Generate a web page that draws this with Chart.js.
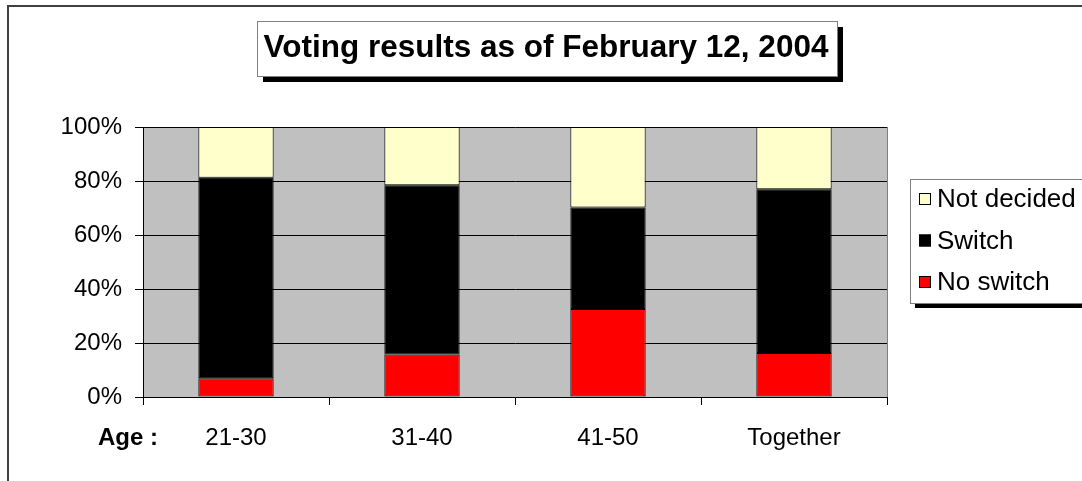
<!DOCTYPE html>
<html>
<head>
<meta charset="utf-8">
<script src="https://cdn.jsdelivr.net/npm/chart.js@4"></script>
<style>
  html, body { margin: 0; padding: 0; background: #fff; }
  #wrap { width: 1082px; height: 481px; }
</style>
</head>
<body>
<div id="wrap"><canvas id="chart" width="1082" height="481"></canvas></div>
<script>
// voting results, stacked to 100%
var categories = ["21-30", "31-40", "41-50", "Together"];
var noSwitch = [6.9, 15.7, 32.6, 16.3];
var switched = [74.3, 62.7, 37.6, 60.6];
var notDecided = [18.8, 21.6, 29.8, 23.1];
var seriesNames = ["No switch", "Switch", "Not decided"];
var titleText = "Voting results as of February 12, 2004";
var axisName = "Age :";

var FONT = "'Liberation Sans', Arial, sans-serif";

// background, outer frame and title box
var framePlugin = {
    id: "frame",
    beforeDraw: function(chart) {
        var ctx = chart.ctx;
        var a = chart.chartArea;
        ctx.save();
        ctx.fillStyle = "#fff";
        ctx.fillRect(0, 0, chart.width, chart.height);

        ctx.strokeStyle = "#404040";
        ctx.lineWidth = 2;
        ctx.strokeRect(8, 6, 1200, 600);

        // title box with shadow
        ctx.fillStyle = "#000";
        ctx.fillRect(263, 27, 580, 55);
        ctx.fillStyle = "#fff";
        ctx.fillRect(257, 21, 580, 55);
        ctx.strokeStyle = "#808080";
        ctx.lineWidth = 1;
        ctx.strokeRect(257.5, 21.5, 580, 55);
        ctx.fillStyle = "#000";
        ctx.font = "bold 31.5px " + FONT;
        ctx.textAlign = "center";
        ctx.textBaseline = "middle";
        ctx.fillText(titleText, 546, 48);

        // plot area
        ctx.fillStyle = "#c0c0c0";
        ctx.fillRect(a.left, a.top, a.right - a.left, a.bottom - a.top);
        ctx.strokeStyle = "#808080";
        ctx.beginPath();
        ctx.moveTo(a.right + 0.5, a.top);
        ctx.lineTo(a.right + 0.5, a.bottom);
        ctx.stroke();
        ctx.restore();
    },
    afterDraw: function(chart) {
        var ctx = chart.ctx;
        ctx.save();
        // "Age :" label
        ctx.fillStyle = "#000";
        ctx.font = "bold 24px " + FONT;
        ctx.textAlign = "left";
        ctx.textBaseline = "middle";
        ctx.fillText(axisName, 98, 438);

        // legend with shadow
        ctx.fillStyle = "#000";
        ctx.fillRect(915, 184, 200, 124);
        ctx.fillStyle = "#fff";
        ctx.fillRect(910, 179, 200, 124);
        ctx.strokeStyle = "#808080";
        ctx.lineWidth = 1;
        ctx.strokeRect(910.5, 179.5, 200, 124);

        var ds = chart.data.datasets;
        ctx.font = "26px " + FONT;
        for (var i = ds.length - 1, row = 0; i >= 0; i--, row++) {
            var y = 199 + row * 41.5;
            ctx.fillStyle = ds[i].backgroundColor;
            ctx.fillRect(919, y - 6, 12, 12);
            ctx.strokeStyle = "#000";
            ctx.strokeRect(919.5, y - 5.5, 11, 11);
            ctx.fillStyle = "#000";
            ctx.fillText(ds[i].label, 937, y + 1);
        }
        ctx.restore();
    }
};

var data = {
    labels: categories,
    datasets: [
        { label: seriesNames[0], data: noSwitch, backgroundColor: "#ff0000" },
        { label: seriesNames[1], data: switched, backgroundColor: "#000000" },
        { label: seriesNames[2], data: notDecided, backgroundColor: "#ffffcc" }
    ]
};
data.datasets.forEach(function(d) {
    d.borderColor = "#000";
    d.borderWidth = 1;
    d.borderSkipped = false;
    d.barPercentage = 0.405;
    d.categoryPercentage = 1.0;
});

var options = {
    responsive: false,
    animation: false,
    layout: { padding: { top: 127, right: 195, left: 0, bottom: 0 } },
    plugins: {
        legend: { display: false },
        title: { display: false },
        tooltip: { enabled: false }
    },
    scales: {
        x: {
            stacked: true,
            offset: true,
            afterFit: function(s) { s.height = 84; },
            grid: { offset: true, drawOnChartArea: false, drawTicks: true, tickLength: 8, color: "#000" },
            border: { color: "#000", width: 1 },
            ticks: { color: "#000", padding: 19, font: { family: FONT, size: 24 } }
        },
        y: {
            stacked: true,
            min: 0,
            max: 100,
            afterFit: function(s) { s.width = 143; },
            grid: { color: "#000", lineWidth: 1, tickLength: 8 },
            border: { color: "#000", width: 1 },
            ticks: {
                stepSize: 20,
                color: "#000",
                padding: 13,
                font: { family: FONT, size: 24 },
                callback: function(v) { return v + "%"; }
            }
        }
    }
};

var ctx = document.getElementById("chart").getContext("2d");
var myChart = new Chart(ctx, { type: "bar", data: data, options: options, plugins: [framePlugin] });
</script>
</body>
</html>
